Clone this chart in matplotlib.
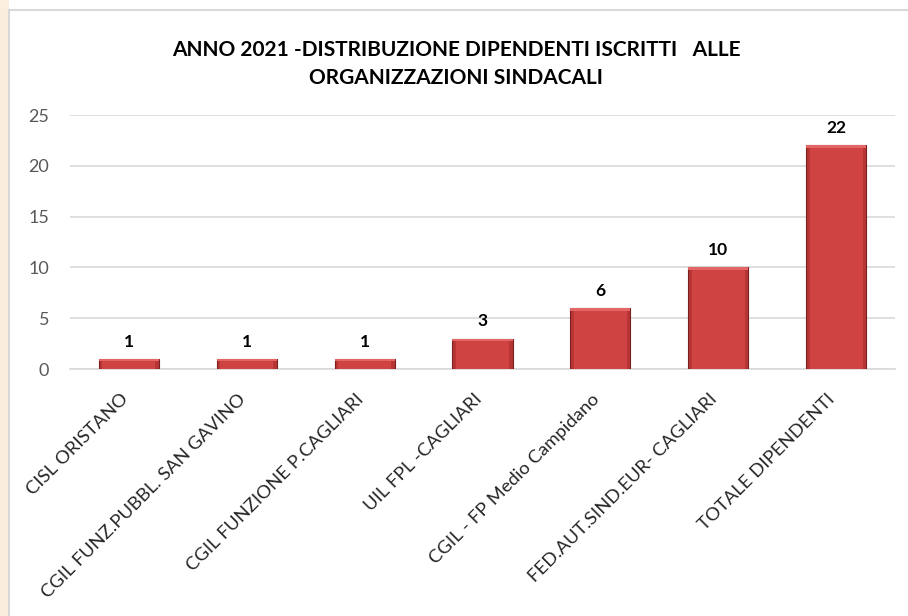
import matplotlib
matplotlib.use("Agg")
import matplotlib.pyplot as plt
from matplotlib.patches import Rectangle
from matplotlib.transforms import offset_copy
import numpy as np

categories = ["CISL ORISTANO", "CGIL FUNZ.PUBBL. SAN GAVINO", "CGIL FUNZIONE P.CAGLIARI",
              "UIL FPL -CAGLIARI", "CGIL - FP Medio Campidano",
              "FED.AUT.SIND.EUR- CAGLIARI", "TOTALE DIPENDENTI"]
values = [1, 1, 1, 3, 6, 10, 22]
yticks = [0, 5, 10, 15, 20, 25]
title = "ANNO 2021 -DISTRIBUZIONE DIPENDENTI ISCRITTI   ALLE\nORGANIZZAZIONI SINDACALI"

plt.rcParams['font.family'] = ['Lato', 'DejaVu Sans']

W, H = 908, 616
fig = plt.figure(figsize=(W/100, H/100), dpi=100)
fig.patch.set_facecolor('white')

# faint background left strip and chart frame
fig.patches.append(Rectangle((0, 0), 9/W, 1, transform=fig.transFigure,
                             facecolor='#fbeede', edgecolor='none', zorder=0))
fig.patches.append(Rectangle((9/W, -0.1), 1.1, (H-10)/H + 0.1, transform=fig.transFigure,
                             facecolor='white', edgecolor='#d9d9d9', linewidth=1.5, zorder=1))

left, right = 70, 895
top, bottom = 115, 369
ax = fig.add_axes([left/W, 1-bottom/H, (right-left)/W, (bottom-top)/H])
ax.set_zorder(2)
ax.set_facecolor('none')

x = np.arange(len(categories))
bars = ax.bar(x, values, width=0.51, color='#b83535', edgecolor='#7a1f1f', linewidth=0.8, zorder=3)
# simple bevel highlight
for b in bars:
    bx = b.get_x()
    bw, bh = b.get_width(), b.get_height()
    cap = min(0.25, bh*0.3)
    ax.add_patch(Rectangle((bx + bw*0.06, 0), bw*0.88, bh - cap,
                           facecolor='#cf4343', edgecolor='none', zorder=3.5))
    ax.add_patch(Rectangle((bx, bh - cap), bw, cap,
                           facecolor='#e46565', edgecolor='none', zorder=4))

for xi, v in zip(x, values):
    ax.text(xi, v + 0.9, str(v), ha='center', va='bottom', fontsize=12.5,
            fontweight='bold', color='black')

ax.set_xlim(-0.5, len(categories) - 0.5)
ax.set_ylim(0, 25)
ax.set_yticks(yticks)
ax.yaxis.grid(True, color='#d9d9d9', linewidth=1.2, zorder=0)
ax.set_axisbelow(True)
for s in ['top', 'right', 'left']:
    ax.spines[s].set_visible(False)
ax.spines['bottom'].set_color('#d9d9d9')
ax.spines['bottom'].set_linewidth(1.2)
ax.tick_params(axis='y', length=0, pad=15, labelsize=13, labelcolor='#595959')
ax.set_xticks(x)
ax.set_xticklabels([])
ax.tick_params(axis='x', length=0)

lab_tr = offset_copy(ax.get_xaxis_transform(), fig=fig, x=-9, y=-22, units='dots')
for xi, c in zip(x, categories):
    ax.text(xi, 0, c, transform=lab_tr, rotation=45, ha='right', va='top',
            rotation_mode='anchor', fontsize=13.3, color='#262626')

fig.text(456/W, 1 - 64/H, title, ha='center', va='center', fontsize=15,
         fontweight='bold', color='black', linespacing=1.5)

fig.savefig('out.png', dpi=100)
